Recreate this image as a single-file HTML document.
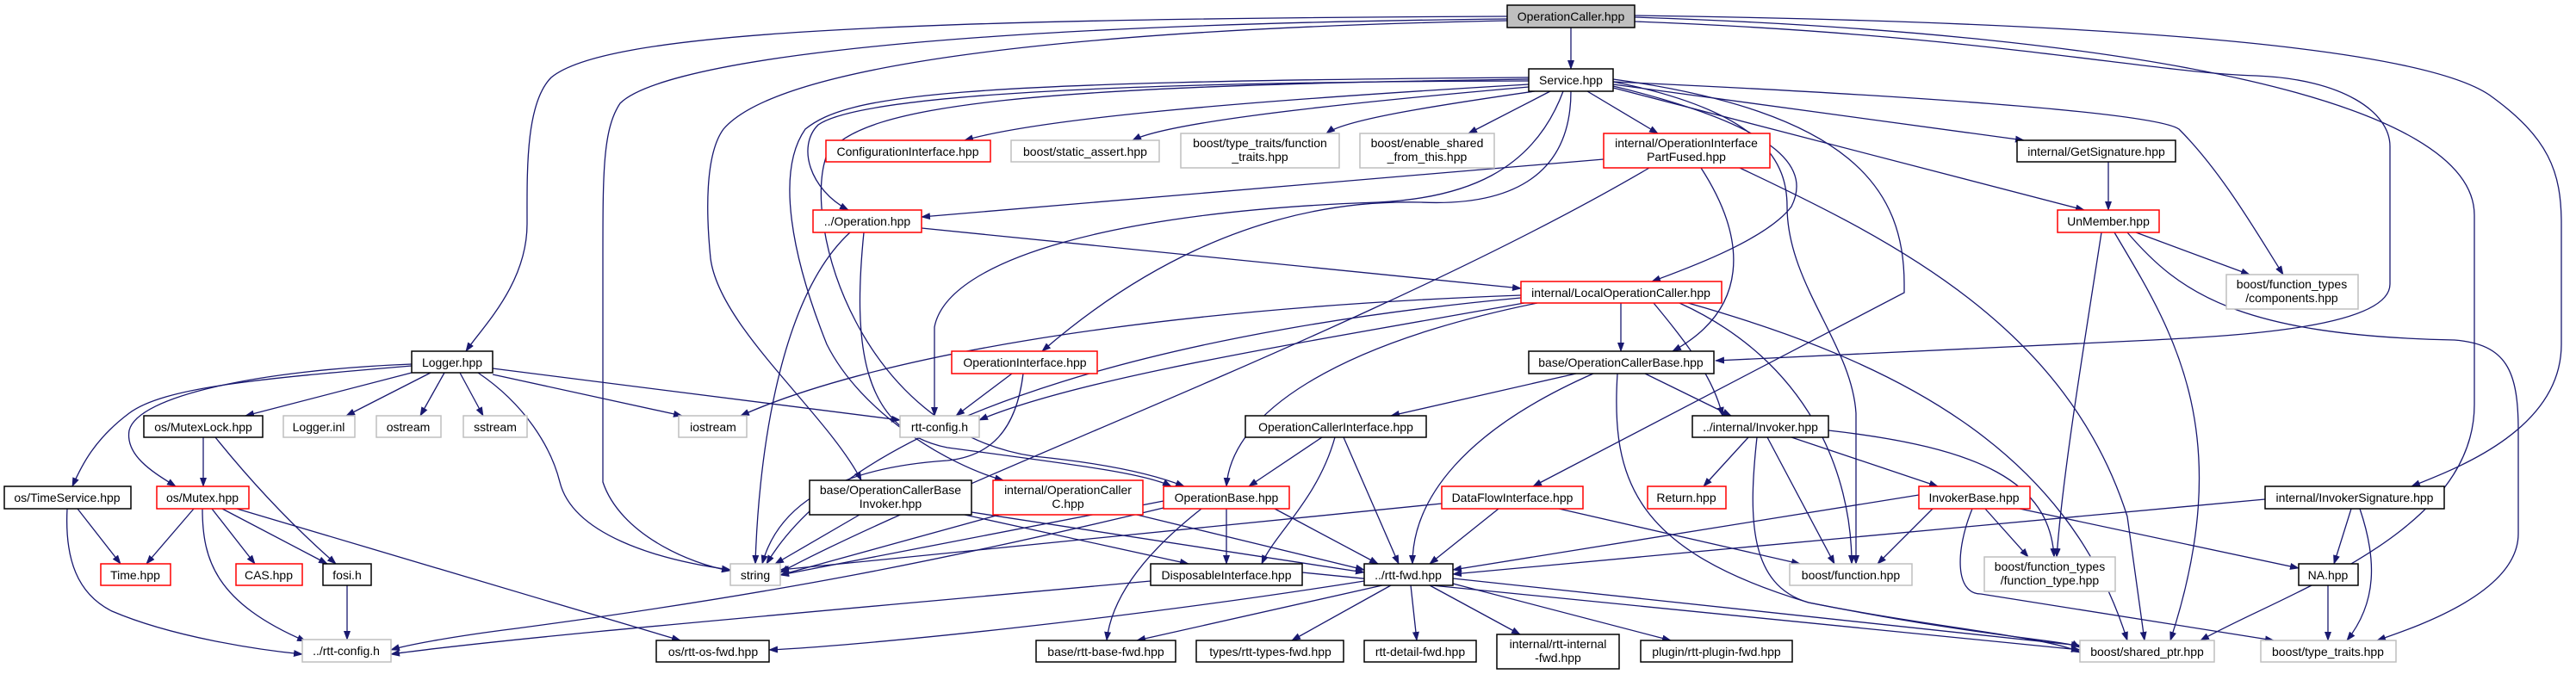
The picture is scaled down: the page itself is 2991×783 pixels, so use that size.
<!DOCTYPE html>
<html><head><meta charset="utf-8"><style>
html,body{margin:0;padding:0;background:#fff;}
svg{display:block;}
text{font-family:"Liberation Sans",sans-serif;font-size:14px;fill:#000;}
.e{fill:none;stroke:#191970;stroke-width:1.3;}
.b{fill:#fff;stroke:#000;stroke-width:1.5;}
.r{fill:#fff;stroke:#ff0000;stroke-width:1.5;}
.g{fill:#fff;stroke:#bfbfbf;stroke-width:1.5;}
</style></head><body>
<svg width="2991" height="783" viewBox="0 0 2991 783" xmlns="http://www.w3.org/2000/svg">
<defs><marker id="a" markerWidth="11" markerHeight="8" refX="10" refY="4" orient="auto" markerUnits="userSpaceOnUse"><path d="M0,0 L11,4 L0,8 z" fill="#191970"/></marker></defs>
<g class="e" marker-end="url(#a)">
<path d="M1824,32 L1824,80"/>
<path d="M1750,19 C1000,22 700,40 640,90 C610,120 612,200 612,260 C612,330 560,380 541,408"/>
<path d="M1750,22 C1000,30 760,80 720,120 C700,150 700,200 700,300 L700,560 C720,620 800,655 848,663"/>
<path d="M1750,24 C1200,35 900,80 840,150 C818,180 820,250 825,300 C835,380 960,480 1000,558"/>
<path d="M1898,25 C2300,40 2500,85 2620,88 C2720,92 2775,130 2775,170 L2775,330 C2775,380 2600,390 2500,395 L1992,419"/>
<path d="M1898,18 C2400,25 2800,50 2890,110 C2960,160 2974,200 2974,260 L2974,400 C2974,500 2850,545 2800,565"/>
<path d="M1898,20 C2500,40 2873,120 2873,250 L2873,470 C2873,620 2650,690 2555,744"/>
<path d="M1873,95 C2050,130 2075,190 2075,240 C2075,330 2150,400 2155,480 L2155,655"/>
<path d="M1873,92 C2150,130 2211,220 2211,330 L2211,340 L1780,565"/>
<path d="M1775,98 C1400,120 1200,140 1120,163"/>
<path d="M1775,101 C1500,125 1350,145 1315,163"/>
<path d="M1782,106 C1650,125 1560,140 1540,155"/>
<path d="M1800,106 L1705,155"/>
<path d="M1843,106 L1925,155"/>
<path d="M1775,94 C1300,95 1000,110 950,145 C925,170 940,220 985,244"/>
<path d="M1815,106 C1780,200 1700,230 1600,235 C1300,245 1100,300 1085,380 L1085,483"/>
<path d="M1824,106 C1824,200 1760,240 1650,235 C1450,230 1300,330 1210,408"/>
<path d="M1775,90 C1100,95 985,110 935,150 C900,200 920,300 960,400 C1000,480 1100,540 1165,558"/>
<path d="M1775,92 C1200,100 1000,120 960,180 C930,260 1000,500 1200,530 C1300,540 1350,555 1375,565"/>
<path d="M1873,100 C2080,150 2100,200 2080,240 C2050,280 1950,315 1918,327"/>
<path d="M1873,98 L2350,163"/>
<path d="M1873,102 L2420,244"/>
<path d="M1873,95 C2200,110 2500,130 2530,150 C2580,200 2620,270 2651,319"/>
<path d="M1862,185 L1070,252"/>
<path d="M1975,195 C2030,280 2030,360 1942,408"/>
<path d="M2020,195 C2200,280 2400,380 2470,600 L2490,744"/>
<path d="M1915,195 C1600,380 1100,560 906,665"/>
<path d="M1070,265 L1766,335"/>
<path d="M987,270 C900,350 880,550 877,655"/>
<path d="M1003,270 C990,400 1000,500 1100,520 C1250,540 1330,550 1360,565"/>
<path d="M1882,352 L1882,408"/>
<path d="M1920,352 C1960,400 1990,440 2000,483"/>
<path d="M1766,343 C1300,360 1000,420 860,483"/>
<path d="M1766,346 C1400,380 1000,470 890,655"/>
<path d="M1770,352 C1500,400 1250,440 1137,488"/>
<path d="M1785,352 C1550,400 1430,480 1424,565"/>
<path d="M1950,352 C2100,420 2150,550 2150,655"/>
<path d="M1960,352 C2200,420 2400,520 2470,744"/>
<path d="M2448,188 L2448,244"/>
<path d="M2480,270 L2612,319"/>
<path d="M2440,270 C2420,400 2395,550 2388,647"/>
<path d="M2455,270 C2520,380 2600,500 2520,744"/>
<path d="M2470,270 C2530,340 2600,390 2850,395 C2910,400 2924,430 2924,500 L2924,620 C2924,690 2800,730 2760,744"/>
<path d="M478,433 L285,483"/>
<path d="M500,433 L402,483"/>
<path d="M516,433 L488,483"/>
<path d="M534,433 L561,483"/>
<path d="M478,425 C300,440 190,450 150,480 C110,510 95,540 84,565"/>
<path d="M478,423 C300,430 160,460 150,500 C145,530 180,550 204,565"/>
<path d="M555,433 C610,470 640,520 650,560 C665,620 760,650 848,662"/>
<path d="M572,435 L792,483"/>
<path d="M572,428 L1045,488"/>
<path d="M236,508 L236,565"/>
<path d="M250,508 C300,570 350,620 390,655"/>
<path d="M90,591 L140,655"/>
<path d="M78,591 C75,650 90,690 130,710 C200,740 300,755 351,760"/>
<path d="M225,591 L170,655"/>
<path d="M246,591 L296,655"/>
<path d="M258,591 L380,655"/>
<path d="M235,591 C235,650 250,700 355,745"/>
<path d="M275,591 L790,744"/>
<path d="M403,680 L403,743"/>
<path d="M1351,590 C1100,650 900,690 600,730 C520,740 470,750 454,755"/>
<path d="M1336,675 C900,715 600,740 454,760"/>
<path d="M1584,675 C1300,720 1000,750 893,755"/>
<path d="M1175,434 L1110,483"/>
<path d="M1188,434 C1180,500 1150,530 1100,535 C950,545 900,600 885,655"/>
<path d="M1830,434 L1615,483"/>
<path d="M1850,434 C1700,500 1640,580 1640,655"/>
<path d="M1910,434 L2010,483"/>
<path d="M1878,434 C1870,560 1900,640 2100,700 C2300,740 2400,744 2415,752"/>
<path d="M1535,508 L1450,565"/>
<path d="M1550,508 C1530,580 1480,620 1465,655"/>
<path d="M1560,508 L1624,655"/>
<path d="M2030,508 L1978,565"/>
<path d="M2052,508 L2130,655"/>
<path d="M2080,508 L2250,565"/>
<path d="M2123,500 C2300,520 2380,560 2385,647"/>
<path d="M2040,508 C2030,600 2030,680 2100,700 C2250,730 2380,740 2415,758"/>
<path d="M1674,585 L906,662"/>
<path d="M1740,591 L1660,655"/>
<path d="M1810,591 L2090,655"/>
<path d="M2228,575 L1687,662"/>
<path d="M2630,580 L1687,667"/>
<path d="M2244,591 L2180,655"/>
<path d="M2305,591 L2355,647"/>
<path d="M2345,591 L2669,660"/>
<path d="M2290,591 C2270,640 2270,690 2300,690 L2640,744"/>
<path d="M2730,591 L2710,655"/>
<path d="M2740,591 C2760,650 2760,700 2725,744"/>
<path d="M2703,680 L2703,744"/>
<path d="M1605,680 L1320,744"/>
<path d="M1615,680 L1500,744"/>
<path d="M1638,680 L1645,744"/>
<path d="M1660,680 L1765,737"/>
<path d="M1687,678 L1940,744"/>
<path d="M1687,672 L2415,750"/>
<path d="M1351,582 L906,668"/>
<path d="M1424,591 L1424,655"/>
<path d="M1480,591 L1600,655"/>
<path d="M1395,591 C1320,650 1290,700 1285,744"/>
<path d="M998,598 L900,655"/>
<path d="M1120,598 L1380,655"/>
<path d="M1128,595 L1584,665"/>
<path d="M1160,598 L906,668"/>
<path d="M1320,598 L1584,662"/>
<path d="M1512,665 L2415,755"/>
</g>
<g text-anchor="middle">
<rect x="1750" y="6" width="148" height="26" fill="#bfbfbf" stroke="#000" stroke-width="1.5"/><text x="1824" y="24">OperationCaller.hpp</text>
<rect class="b" x="1775" y="80" width="98" height="26"/><text x="1824" y="98">Service.hpp</text>
<rect class="b" x="478" y="408" width="94" height="25"/><text x="525" y="426">Logger.hpp</text>
<rect class="b" x="167" y="483" width="138" height="25"/><text x="236" y="501">os/MutexLock.hpp</text>
<rect class="g" x="329" y="483" width="83" height="25"/><text x="370" y="501">Logger.inl</text>
<rect class="g" x="437" y="483" width="75" height="25"/><text x="474" y="501">ostream</text>
<rect class="g" x="538" y="483" width="74" height="25"/><text x="575" y="501">sstream</text>
<rect class="b" x="5" y="565" width="147" height="26"/><text x="78" y="583">os/TimeService.hpp</text>
<rect class="r" x="182" y="565" width="107" height="26"/><text x="235" y="583">os/Mutex.hpp</text>
<rect class="r" x="117" y="655" width="81" height="25"/><text x="157" y="673">Time.hpp</text>
<rect class="r" x="274" y="655" width="77" height="25"/><text x="312" y="673">CAS.hpp</text>
<rect class="b" x="375" y="655" width="56" height="25"/><text x="403" y="673">fosi.h</text>
<rect class="g" x="351" y="743" width="103" height="26"/><text x="402" y="761">../rtt-config.h</text>
<rect class="r" x="959" y="163" width="191" height="25"/><text x="1054" y="181">ConfigurationInterface.hpp</text>
<rect class="g" x="1174" y="163" width="172" height="25"/><text x="1260" y="181">boost/static_assert.hpp</text>
<rect class="g" x="1371" y="155" width="184" height="40"/><text x="1463" y="171">boost/type_traits/function</text><text x="1463" y="187">_traits.hpp</text>
<rect class="r" x="944" y="244" width="126" height="26"/><text x="1007" y="262">../Operation.hpp</text>
<rect class="g" x="1579" y="155" width="156" height="40"/><text x="1657" y="171">boost/enable_shared</text><text x="1657" y="187">_from_this.hpp</text>
<rect class="r" x="1862" y="155" width="193" height="40"/><text x="1958" y="171">internal/OperationInterface</text><text x="1958" y="187">PartFused.hpp</text>
<rect class="r" x="1766" y="327" width="233" height="25"/><text x="1882" y="345">internal/LocalOperationCaller.hpp</text>
<rect class="b" x="2342" y="163" width="184" height="25"/><text x="2434" y="181">internal/GetSignature.hpp</text>
<rect class="r" x="2389" y="244" width="118" height="26"/><text x="2448" y="262">UnMember.hpp</text>
<rect class="g" x="2585" y="319" width="153" height="40"/><text x="2661" y="335">boost/function_types</text><text x="2661" y="351">/components.hpp</text>
<rect class="r" x="1105" y="408" width="169" height="26"/><text x="1190" y="426">OperationInterface.hpp</text>
<rect class="g" x="788" y="483" width="79" height="25"/><text x="828" y="501">iostream</text>
<rect class="g" x="1045" y="483" width="92" height="25"/><text x="1091" y="501">rtt-config.h</text>
<rect class="b" x="940" y="558" width="188" height="40"/><text x="1034" y="574">base/OperationCallerBase</text><text x="1034" y="590">Invoker.hpp</text>
<rect class="r" x="1153" y="558" width="174" height="40"/><text x="1240" y="574">internal/OperationCaller</text><text x="1240" y="590">C.hpp</text>
<rect class="r" x="1351" y="565" width="146" height="26"/><text x="1424" y="583">OperationBase.hpp</text>
<rect class="g" x="848" y="655" width="58" height="25"/><text x="877" y="673">string</text>
<rect class="b" x="1336" y="655" width="176" height="25"/><text x="1424" y="673">DisposableInterface.hpp</text>
<rect class="b" x="762" y="744" width="131" height="25"/><text x="828" y="762">os/rtt-os-fwd.hpp</text>
<rect class="b" x="1203" y="744" width="162" height="25"/><text x="1284" y="762">base/rtt-base-fwd.hpp</text>
<rect class="b" x="1389" y="744" width="171" height="25"/><text x="1475" y="762">types/rtt-types-fwd.hpp</text>
<rect class="b" x="1775" y="408" width="215" height="26"/><text x="1882" y="426">base/OperationCallerBase.hpp</text>
<rect class="b" x="1446" y="483" width="210" height="25"/><text x="1551" y="501">OperationCallerInterface.hpp</text>
<rect class="b" x="1965" y="483" width="158" height="25"/><text x="2044" y="501">../internal/Invoker.hpp</text>
<rect class="r" x="1674" y="565" width="164" height="26"/><text x="1756" y="583">DataFlowInterface.hpp</text>
<rect class="r" x="1913" y="565" width="91" height="26"/><text x="1958" y="583">Return.hpp</text>
<rect class="b" x="1584" y="655" width="103" height="25"/><text x="1635" y="673">../rtt-fwd.hpp</text>
<rect class="g" x="2078" y="655" width="142" height="25"/><text x="2149" y="673">boost/function.hpp</text>
<rect class="b" x="1584" y="744" width="130" height="25"/><text x="1649" y="762">rtt-detail-fwd.hpp</text>
<rect class="b" x="1738" y="737" width="142" height="40"/><text x="1809" y="753">internal/rtt-internal</text><text x="1809" y="769">-fwd.hpp</text>
<rect class="b" x="1905" y="744" width="176" height="25"/><text x="1993" y="762">plugin/rtt-plugin-fwd.hpp</text>
<rect class="r" x="2228" y="565" width="129" height="26"/><text x="2292" y="583">InvokerBase.hpp</text>
<rect class="b" x="2630" y="565" width="208" height="26"/><text x="2734" y="583">internal/InvokerSignature.hpp</text>
<rect class="g" x="2304" y="647" width="152" height="40"/><text x="2380" y="663">boost/function_types</text><text x="2380" y="679">/function_type.hpp</text>
<rect class="b" x="2669" y="655" width="69" height="25"/><text x="2703" y="673">NA.hpp</text>
<rect class="g" x="2415" y="744" width="156" height="25"/><text x="2493" y="762">boost/shared_ptr.hpp</text>
<rect class="g" x="2625" y="744" width="157" height="25"/><text x="2703" y="762">boost/type_traits.hpp</text>
</g>
</svg>
</body></html>
